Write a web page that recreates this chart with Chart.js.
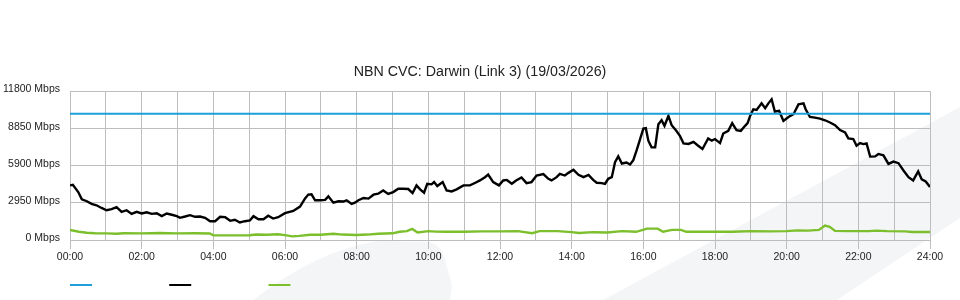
<!DOCTYPE html>
<html>
<head>
<meta charset="utf-8">
<script src="https://cdn.jsdelivr.net/npm/chart.js@4"></script>
<style>
  html, body { margin: 0; padding: 0; background: #fff; }
  #wrap { width: 960px; height: 300px; }
</style>
</head>
<body>
<div id="wrap"><canvas id="cvc" width="960" height="300"></canvas></div>
<script>
// capacity (blue)
const capHours = [0, 24];
const capMbps = [10000, 10000];

// traffic (black), hours of day
const trafficHours = [
  0, 0.08, 0.23, 0.33, 0.47, 0.6, 0.74, 0.88, 1.02, 1.16, 1.3, 1.44, 1.58, 1.72, 1.86,
  2.0, 2.14, 2.28, 2.42, 2.56, 2.7, 2.84, 2.98, 3.07, 3.21, 3.35, 3.49, 3.63, 3.77, 3.91,
  4.05, 4.19, 4.33, 4.47, 4.6, 4.74, 4.88, 5.02, 5.12, 5.26, 5.4, 5.53, 5.67, 5.81,
  6.0, 6.23, 6.42, 6.56, 6.65, 6.74, 6.84, 6.98, 7.12, 7.21, 7.35, 7.49, 7.63, 7.72, 7.86,
  7.95, 8.05, 8.19, 8.33, 8.47, 8.6, 8.74, 8.88, 9.02, 9.16, 9.3, 9.44, 9.56, 9.67, 9.77,
  9.88, 9.97, 10.09, 10.16, 10.25, 10.4, 10.51, 10.65, 10.79, 10.98, 11.16, 11.3, 11.44,
  11.58, 11.67, 11.81, 11.97, 12.09, 12.19, 12.33, 12.45, 12.6, 12.74, 12.88, 13.02,
  13.21, 13.35, 13.44, 13.58, 13.67, 13.81, 13.91, 14.05, 14.19, 14.33, 14.47, 14.6,
  14.7, 14.84, 14.93, 15.02, 15.12, 15.21, 15.3, 15.4, 15.53, 15.63, 15.72, 15.81, 15.91,
  16.0, 16.07, 16.14, 16.23, 16.33, 16.42, 16.51, 16.59, 16.7, 16.79, 16.92, 17.02, 17.12,
  17.26, 17.4, 17.53, 17.65, 17.81, 17.91, 18.0, 18.14, 18.23, 18.37, 18.48, 18.6, 18.72,
  18.84, 18.91, 18.98, 19.07, 19.16, 19.3, 19.4, 19.49, 19.58, 19.67, 19.79, 19.91, 20.05,
  20.19, 20.33, 20.47, 20.53, 20.65, 20.79, 20.93, 21.07, 21.21, 21.35, 21.49, 21.63,
  21.72, 21.86, 21.95, 22.05, 22.14, 22.23, 22.33, 22.47, 22.56, 22.7, 22.84, 22.98,
  23.12, 23.26, 23.4, 23.53, 23.67, 23.77, 23.88, 24.0
];
const trafficMbps = [
  4330, 4380, 3800, 3230, 3070, 2860, 2750, 2540, 2360, 2440, 2600, 2230, 2360, 2070, 2230,
  2100, 2200, 2070, 2120, 1890, 2100, 2000, 1890, 1760, 1860, 1970, 1840, 1860, 1760, 1490,
  1490, 1840, 1810, 1520, 1600, 1390, 1490, 1550, 1890, 1650, 1650, 1920, 1700, 1810,
  2130, 2300, 2650, 3300, 3600, 3620, 3150, 3150, 3180, 3460, 2960, 3070, 3050, 3150, 2860,
  2960, 3150, 3330, 3280, 3590, 3670, 3930, 3650, 3800, 4060, 4060, 4040, 3720, 4330, 4010,
  3750, 4460, 4410, 4590, 4280, 4590, 3930, 3850, 4010, 4330, 4330, 4520, 4720,
  4980, 5190, 4590, 4330, 4720, 4760, 4460, 4720, 4960, 4510, 4590, 5110,
  5220, 4850, 4720, 4980, 5240, 5110, 5320, 5560, 5170, 4980, 5150, 4770,
  4540, 4510, 4440, 4850, 4980, 6160, 6630, 6060, 6140, 5980, 6320, 7080, 8000,
  8830, 8860, 7870, 7340, 7340, 9180, 9490, 9050, 9830, 9100, 8650, 8260, 7660,
  7610, 7780, 7470, 7210, 8050, 7870, 8000, 7680, 8440, 8650, 9260, 8710, 8650,
  9050, 9260, 9830, 10360, 10310, 10830, 10450, 10830, 11150, 10180, 10230, 9440, 9750,
  9970, 10750, 10830, 10360, 9750, 9700, 9620, 9490, 9310, 9100, 8710, 8520,
  8050, 8000, 7470, 7680, 7600, 7650, 6610, 6630, 6820, 6710, 6030, 6210,
  6090, 5510, 4980, 4720, 5430, 4800, 4640, 4200
];

// green series
const greenHours = [
  0, 0.25, 0.47, 0.7, 1.0, 1.3, 1.5, 2.0, 2.5, 3.0, 3.5, 3.9, 4.0, 4.5, 5.0, 5.2, 5.5, 5.8,
  6.0, 6.2, 6.4, 6.7, 7.0, 7.35, 7.6, 8.0, 8.3, 8.6, 9.0, 9.2, 9.4, 9.55, 9.7, 10.0, 10.2,
  10.5, 11.0, 11.5, 12.0, 12.5, 12.9, 13.1, 13.6, 14.0, 14.2, 14.6, 15.0, 15.4, 15.8, 16.1,
  16.4, 16.55, 16.8, 17.05, 17.2, 18.0, 18.5, 19.0, 19.5, 20.0, 20.3, 20.6, 20.9, 21.07,
  21.2, 21.35, 21.7, 22.0, 22.3, 22.5, 22.8, 23.3, 23.5, 24.0
];
const greenMbps = [
  790, 650, 575, 540, 525, 500, 540, 525, 560, 525, 540, 520, 380, 370, 380, 440, 420, 460,
  390, 290, 330, 420, 420, 500, 430, 400, 430, 500, 530, 650, 700, 880, 600, 700, 660,
  650, 650, 680, 680, 700, 540, 700, 700, 620, 560, 620, 600, 700, 650, 900,
  900, 650, 800, 800, 650, 650, 650, 700, 680, 700, 760, 740, 800, 1150,
  1050, 720, 700, 700, 700, 740, 700, 680, 630, 630
];

const yTicks = [0, 2950, 5900, 8850, 11800];
const chartTitle = "NBN CVC: Darwin (Link 3) (19/03/2026)";

const pts = (xs, ys) => xs.map((x, i) => ({ x: x, y: ys[i] }));
const gridColor = "#bdbdbd";
const fontFamily = "'Liberation Sans', Arial, sans-serif";

// faint logo shapes behind the chart
const watermark = {
  id: "watermark",
  beforeDraw(chart) {
    const ctx = chart.ctx;
    ctx.save();
    ctx.fillStyle = "#f4f5f7";
    ctx.beginPath();
    ctx.moveTo(960, 107);
    ctx.lineTo(603, 300);
    ctx.lineTo(837, 300);
    ctx.lineTo(960, 218);
    ctx.closePath();
    ctx.fill();
    ctx.beginPath();
    ctx.moveTo(253, 300);
    ctx.quadraticCurveTo(318, 250, 378, 241);
    ctx.lineTo(428, 242);
    ctx.quadraticCurveTo(441, 244, 444, 257);
    ctx.lineTo(452, 285);
    ctx.lineTo(450, 300);
    ctx.closePath();
    ctx.fill();
    ctx.restore();
  },
};

const pad2 = (n) => (n < 10 ? "0" : "") + n;

new Chart(document.getElementById("cvc"), {
  type: "line",
  data: {
    datasets: [
      { label: "Capacity", data: pts(capHours, capMbps), borderColor: "#1c9fdb", backgroundColor: "#1c9fdb", borderWidth: 2 },
      { label: "Traffic", data: pts(trafficHours, trafficMbps), borderColor: "#000000", backgroundColor: "#000000", borderWidth: 2.4 },
      { label: "Other", data: pts(greenHours, greenMbps), borderColor: "#7cbf2c", backgroundColor: "#7cbf2c", borderWidth: 2.4 },
    ],
  },
  options: {
    responsive: false,
    animation: false,
    elements: {
      line: { tension: 0 },
      point: { radius: 0, hoverRadius: 0 },
    },
    layout: { padding: 0 },
    scales: {
      x: {
        type: "linear",
        min: 0,
        max: 24,
        afterFit(scale) {
          scale.height = 40;
          scale.paddingRight = 30;
        },
        grid: {
          color: gridColor,
          tickLength: 9,
          tickColor: (c) => (c.tick && c.tick.value % 2 ? "rgba(0,0,0,0)" : gridColor),
        },
        border: { color: gridColor },
        ticks: {
          stepSize: 1,
          autoSkip: false,
          maxRotation: 0,
          padding: 1.5,
          color: "#222",
          font: { family: fontFamily, size: 10.5 },
          callback: (v) => (v % 2 ? "" : pad2(v) + ":00"),
        },
      },
      y: {
        min: 0,
        max: 11800,
        afterFit(scale) { scale.width = 70; },
        afterBuildTicks(scale) { scale.ticks = yTicks.map((v) => ({ value: v })); },
        grid: { color: gridColor, drawTicks: false },
        border: { color: gridColor },
        ticks: {
          padding: 10,
          labelOffset: -1.5,
          color: "#222",
          font: { family: fontFamily, size: 10.5 },
          callback: (v) => v + " Mbps",
        },
      },
    },
    plugins: {
      title: {
        display: true,
        text: chartTitle,
        color: "#222",
        font: { family: fontFamily, size: 14.25, weight: "normal" },
        padding: { top: 63.5, bottom: 10.5 },
      },
      legend: {
        position: "bottom",
        align: "start",
        fullSize: false,
        labels: {
          boxWidth: 22,
          boxHeight: 2,
          padding: 0,
          font: { family: fontFamily, size: 10 },
          generateLabels: (chart) =>
            chart.data.datasets.map((ds, i) => ({
              text: " ".repeat(26),
              fillStyle: ds.borderColor,
              strokeStyle: ds.borderColor,
              lineWidth: 0,
              datasetIndex: i,
            })),
        },
      },
      tooltip: { enabled: false },
    },
  },
  plugins: [watermark],
});
</script>
</body>
</html>
